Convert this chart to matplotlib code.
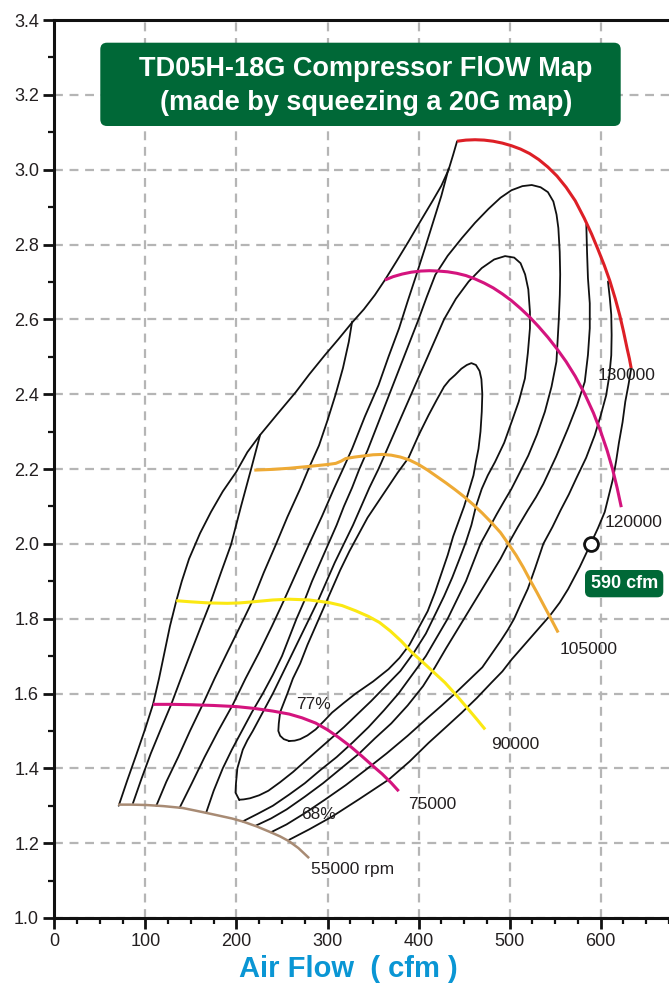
import matplotlib
matplotlib.use("Agg")
import matplotlib.pyplot as plt
from matplotlib.patches import FancyBboxPatch
import numpy as np

plt.rcParams['font.family'] = ['Liberation Sans', 'DejaVu Sans']

# ---------------- data (cfm, pressure ratio) ----------------
surge_x = [70.7, 80, 90, 100, 108.4, 115, 121, 127, 134, 140, 148, 160, 172, 185, 200, 212, 226, 245, 265, 280, 297, 312, 326.5, 340, 352, 363, 376, 389, 402, 415, 425, 433, 438, 442.3]
surge_y = [1.30, 1.367, 1.436, 1.507, 1.571, 1.64, 1.71, 1.78, 1.848, 1.90, 1.96, 2.028, 2.085, 2.14, 2.193, 2.245, 2.291, 2.347, 2.405, 2.453, 2.504, 2.547, 2.59, 2.627, 2.665, 2.705, 2.756, 2.808, 2.862, 2.915, 2.957, 3.0, 3.04, 3.076]

# left pieces of outer efficiency contours (surge -> 55000 rpm line)
l1_x = [86.4, 96, 106, 117, 128.4, 139, 150, 161, 172.2, 183, 194.1, 205, 216, 226]
l1_y = [1.307, 1.374, 1.44, 1.505, 1.571, 1.64, 1.71, 1.779, 1.848, 1.923, 1.998, 2.10, 2.199, 2.291]
l2_x = [112, 123, 136, 149, 163, 176, 190, 204, 217.7, 230, 243.3, 256, 270, 280, 290.7, 300, 309, 317, 323.4, 327]
l2_y = [1.30, 1.364, 1.43, 1.50, 1.571, 1.64, 1.71, 1.779, 1.848, 1.923, 1.998, 2.072, 2.147, 2.205, 2.263, 2.33, 2.40, 2.47, 2.54, 2.594]
l3_x = [137.5, 151, 165, 180, 196, 210, 225, 239, 252, 266, 280, 294, 307, 317, 327, 341, 356, 367, 378.6, 388, 397.6, 407, 416, 425, 433]
l3_y = [1.294, 1.36, 1.43, 1.50, 1.57, 1.64, 1.71, 1.78, 1.848, 1.924, 2.0, 2.074, 2.147, 2.20, 2.254, 2.34, 2.424, 2.50, 2.576, 2.648, 2.719, 2.79, 2.86, 2.93, 3.003]

# right pieces of outer contours (55000 rpm line -> 130000 rpm line)
r1_x = [257.9, 280, 305, 335, 367.3, 390, 411, 430, 447.5, 464, 480, 492, 502.2, 523, 544.2, 555, 564.2, 577, 589, 597, 604.4, 609, 613.5, 617, 620, 624, 627, 630.5, 633.5]
r1_y = [1.209, 1.237, 1.271, 1.318, 1.37, 1.418, 1.468, 1.51, 1.549, 1.588, 1.629, 1.659, 1.691, 1.749, 1.808, 1.843, 1.879, 1.938, 2.0, 2.042, 2.085, 2.13, 2.174, 2.222, 2.27, 2.325, 2.38, 2.425, 2.469]
r2_x = [237.8, 255, 275, 297, 320, 342, 365, 388, 410, 425, 440, 455, 470, 480, 490, 498, 505, 512, 520, 528, 537, 547, 556, 565, 573, 584, 593.4, 600, 606, 609.5, 611.6, 612, 611.6, 610, 608]
r2_y = [1.229, 1.25, 1.28, 1.316, 1.355, 1.396, 1.44, 1.487, 1.535, 1.567, 1.60, 1.635, 1.67, 1.705, 1.74, 1.77, 1.80, 1.838, 1.88, 1.935, 2.0, 2.045, 2.09, 2.132, 2.174, 2.23, 2.29, 2.343, 2.397, 2.45, 2.504, 2.558, 2.612, 2.657, 2.701]
r3_x = [221.4, 238, 255, 275, 295, 315, 335, 352, 370, 388, 405, 418, 430, 440, 450, 460, 470, 480, 490, 498.6, 509, 520, 529, 537, 551, 564, 574, 582.5, 586, 588, 588, 586, 585, 584.2]
r3_y = [1.247, 1.266, 1.29, 1.324, 1.36, 1.40, 1.44, 1.48, 1.52, 1.568, 1.62, 1.67, 1.72, 1.76, 1.80, 1.84, 1.88, 1.92, 1.96, 2.0, 2.045, 2.09, 2.125, 2.16, 2.233, 2.308, 2.37, 2.433, 2.505, 2.576, 2.643, 2.71, 2.78, 2.853]

# contour cut only by the 55000 rpm line (top at 2.96)
t1_x = [166.7, 175, 185, 195, 206, 217, 229, 240, 250, 258, 266, 275, 283, 292, 301, 310, 318, 327, 335, 344, 352, 360, 368, 376, 384, 392, 400, 409, 418.4, 432, 447.5, 462, 476.7, 490, 502, 514, 524.3, 534, 542, 548, 551.5, 553.5, 555, 555.5, 555.1, 554, 551.4, 546, 538.7, 530, 520.5, 511, 502, 494, 486, 477, 468, 460, 452, 442, 432, 420, 408, 393, 378, 362, 345, 328, 310, 292, 275, 258, 240, 223, 206.8]
t1_y = [1.281, 1.34, 1.40, 1.45, 1.50, 1.55, 1.60, 1.65, 1.70, 1.75, 1.80, 1.85, 1.90, 1.95, 2.0, 2.05, 2.1, 2.15, 2.2, 2.25, 2.3, 2.35, 2.4, 2.45, 2.5, 2.55, 2.6, 2.66, 2.719, 2.77, 2.817, 2.858, 2.895, 2.925, 2.945, 2.956, 2.959, 2.953, 2.94, 2.915, 2.88, 2.844, 2.78, 2.72, 2.665, 2.60, 2.487, 2.42, 2.353, 2.292, 2.236, 2.19, 2.147, 2.114, 2.08, 2.04, 2.0, 1.95, 1.9, 1.85, 1.8, 1.75, 1.7, 1.65, 1.6, 1.555, 1.51, 1.47, 1.43, 1.395, 1.36, 1.33, 1.30, 1.278, 1.258]

# closed island (top 2.77, bottom 1.32)
t2_x = [203, 199, 199.5, 201, 204, 207, 212, 218, 229, 240, 250, 260, 270, 280, 290, 299, 308, 318, 328, 337, 346, 356, 365, 374, 383, 392, 401, 410, 419, 428, 441, 455, 469.4, 483, 495, 505, 512, 517, 520.5, 522.3, 522.3, 520, 516.8, 510, 502.2, 494, 484, 476, 469.4, 463, 458, 452, 445, 437, 428, 418, 408, 395, 380, 364, 348, 333, 318, 304, 290, 276, 262, 248, 235, 225, 215, 208, 203]
t2_y = [1.316, 1.335, 1.36, 1.40, 1.425, 1.45, 1.475, 1.50, 1.55, 1.60, 1.65, 1.70, 1.75, 1.80, 1.85, 1.90, 1.95, 2.0, 2.05, 2.1, 2.15, 2.2, 2.25, 2.3, 2.35, 2.4, 2.45, 2.5, 2.55, 2.6, 2.655, 2.701, 2.737, 2.76, 2.769, 2.765, 2.75, 2.72, 2.68, 2.62, 2.576, 2.51, 2.442, 2.38, 2.326, 2.27, 2.219, 2.183, 2.147, 2.10, 2.05, 2.005, 1.96, 1.91, 1.86, 1.81, 1.76, 1.71, 1.66, 1.62, 1.58, 1.545, 1.51, 1.48, 1.45, 1.42, 1.39, 1.363, 1.34, 1.328, 1.32, 1.317, 1.316]

# 77% island
t3_x = [258, 252, 248, 246, 246.5, 248, 252, 256, 262, 270, 278, 287, 296, 305, 314, 324, 334, 344, 355, 366, 377, 389, 400, 411, 420, 428, 434, 440, 447, 453, 458, 463, 467, 469, 470, 469.4, 468, 465.8, 463, 460.3, 455, 450, 444, 438, 432, 425, 418, 410, 400, 390, 379, 367, 350, 331, 318, 305, 296, 287, 278, 270, 264, 258]
t3_y = [1.473, 1.478, 1.487, 1.50, 1.52, 1.55, 1.575, 1.60, 1.64, 1.68, 1.73, 1.78, 1.83, 1.88, 1.93, 1.98, 2.025, 2.07, 2.11, 2.15, 2.19, 2.23, 2.29, 2.344, 2.385, 2.42, 2.438, 2.451, 2.468, 2.478, 2.483, 2.478, 2.462, 2.44, 2.40, 2.353, 2.30, 2.254, 2.22, 2.183, 2.14, 2.10, 2.06, 2.02, 1.97, 1.92, 1.87, 1.82, 1.775, 1.73, 1.695, 1.665, 1.632, 1.60, 1.575, 1.549, 1.526, 1.504, 1.488, 1.478, 1.474, 1.473]

# speed lines
rpm130_x = [442.3, 452, 462, 472, 482, 492, 502, 512, 522, 532, 542, 552, 562, 572, 582, 590, 597, 604, 610, 616, 621, 625, 629, 631.5, 633.5]
rpm130_y = [3.076, 3.079, 3.080, 3.079, 3.076, 3.071, 3.064, 3.055, 3.043, 3.027, 3.007, 2.983, 2.953, 2.917, 2.870, 2.828, 2.787, 2.744, 2.703, 2.655, 2.61, 2.568, 2.522, 2.495, 2.469]
rpm120_x = [363, 372, 382, 392, 402, 412, 422, 432, 442, 452, 462, 472, 482, 492, 502, 512, 522, 532, 542, 552, 562, 572, 582, 592, 600, 607, 613, 618, 622.6]
rpm120_y = [2.705, 2.714, 2.721, 2.726, 2.729, 2.730, 2.729, 2.727, 2.723, 2.717, 2.708, 2.697, 2.684, 2.668, 2.65, 2.629, 2.606, 2.58, 2.552, 2.521, 2.487, 2.448, 2.403, 2.35, 2.30, 2.25, 2.20, 2.15, 2.098]
rpm105_x = [219.6, 240, 258, 280, 300, 309, 315, 320, 330, 340, 350, 360, 370, 380, 390, 400, 410, 420, 430, 440, 450, 460, 470, 480, 490, 498.6, 507, 515, 522, 530, 537, 544, 549, 553.3]
rpm105_y = [2.197, 2.199, 2.202, 2.207, 2.212, 2.215, 2.221, 2.228, 2.232, 2.235, 2.238, 2.239, 2.237, 2.232, 2.224, 2.212, 2.197, 2.18, 2.163, 2.145, 2.126, 2.105, 2.082, 2.057, 2.03, 2.0, 1.97, 1.937, 1.905, 1.87, 1.838, 1.806, 1.783, 1.763]
rpm90_x = [133.9, 150, 170, 190, 203, 218, 240, 258, 280, 301.6, 316, 331, 345, 357, 369, 381, 393, 405, 417, 429, 442, 455, 464, 473.1]
rpm90_y = [1.848, 1.845, 1.842, 1.841, 1.842, 1.845, 1.85, 1.852, 1.85, 1.843, 1.835, 1.821, 1.806, 1.79, 1.767, 1.74, 1.709, 1.683, 1.656, 1.629, 1.594, 1.557, 1.531, 1.504]
rpm75_x = [108.4, 130, 150, 175, 200, 220, 240, 258, 272, 287, 300, 312, 325, 338, 350, 360, 370, 378.2]
rpm75_y = [1.571, 1.571, 1.570, 1.568, 1.565, 1.560, 1.553, 1.545, 1.535, 1.521, 1.503, 1.483, 1.459, 1.432, 1.406, 1.385, 1.361, 1.339]
rpm55_x = [70, 85, 101, 120, 141, 155, 166.7, 180, 195, 206.8, 222, 237.8, 248, 257.9, 268, 279.8]
rpm55_y = [1.303, 1.303, 1.302, 1.299, 1.294, 1.287, 1.281, 1.274, 1.266, 1.258, 1.245, 1.229, 1.218, 1.205, 1.187, 1.16]

speed_labels = ["130000", "120000", "105000", "90000", "75000", "55000 rpm"]
speed_label_x = [597, 604.4, 555, 480, 389, 281.6]
speed_label_y = [2.451, 2.058, 1.718, 1.464, 1.303, 1.129]

eff_labels = ["77%", "68%"]
eff_label_x = [265, 270.7]
eff_label_y = [1.571, 1.276]

point_x, point_y = 589, 2.0
point_label = "590 cfm"

title_lines = ["TD05H-18G Compressor FlOW Map", "(made by squeezing a 20G map)"]
xlabel = "Air Flow  ( cfm )"
xticks = [0, 100, 200, 300, 400, 500, 600]
yticks = [1.0, 1.2, 1.4, 1.6, 1.8, 2.0, 2.2, 2.4, 2.6, 2.8, 3.0, 3.2, 3.4]

# ---------------- figure ----------------
W, H = 669, 983
fig = plt.figure(figsize=(W / 100, H / 100), dpi=100)
ax = fig.add_axes([54.3 / W, 1 - 918 / H, (W - 54.3) / W, (918 - 20) / H])
ax.set_xlim(0, 672.5)
ax.set_ylim(1.0, 3.4)

txt_col = '#231f20'
for s in ['left', 'bottom', 'top']:
    ax.spines[s].set_linewidth(2.2)
    ax.spines[s].set_color('#111111')
ax.spines['right'].set_visible(False)

ax.set_xticks(xticks)
ax.set_xticks(np.arange(0, 676, 25), minor=True)
ax.set_yticks(yticks)
ax.set_yticks(np.arange(1.0, 3.41, 0.1), minor=True)
ax.set_yticklabels([f"{v:.1f}" for v in yticks])
ax.tick_params(axis='both', which='major', direction='out', length=8, width=2, labelsize=13,
               labelcolor=txt_col, color='#111111', pad=3)
ax.tick_params(axis='both', which='minor', direction='out', length=4, width=1.6, color='#111111')
ax.tick_params(axis='x', which='both', top=False)

ax.set_axisbelow(True)
ax.grid(True, which='major', color='#b5b5b5', linewidth=1.6, linestyle=(0, (4, 3)))

black = dict(color='#111111', lw=1.3, solid_joinstyle='round', solid_capstyle='round', zorder=3)
ax.plot(surge_x, surge_y, **black)
for xs, ys in [(l1_x, l1_y), (l2_x, l2_y), (l3_x, l3_y), (r1_x, r1_y), (r2_x, r2_y), (r3_x, r3_y),
               (t1_x, t1_y), (t2_x, t2_y), (t3_x, t3_y)]:
    ax.plot(xs, ys, **black)

sp = dict(solid_joinstyle='round', solid_capstyle='butt', zorder=4)
ax.plot(rpm130_x, rpm130_y, color='#dd1f26', lw=2.2, **sp)
ax.plot(rpm120_x, rpm120_y, color='#d4147e', lw=2.2, **sp)
ax.plot(rpm105_x, rpm105_y, color='#eeaa35', lw=2.2, **sp)
ax.plot(rpm90_x, rpm90_y, color='#fbe812', lw=2.2, **sp)
ax.plot(rpm75_x, rpm75_y, color='#d4147e', lw=2.2, **sp)
ax.plot(rpm55_x, rpm55_y, color='#a88b74', lw=1.8, **sp)

for t, x, y in zip(speed_labels, speed_label_x, speed_label_y):
    ax.text(x, y, t, fontsize=12.5, color=txt_col, ha='left', va='center', zorder=6)
for t, x, y in zip(eff_labels, eff_label_x, eff_label_y):
    ax.text(x, y, t, fontsize=12.5, color=txt_col, ha='left', va='center', zorder=6)

ax.plot([point_x], [point_y], marker='o', ms=10, mfc='white', mec='#111111', mew=2, zorder=7)

green = '#006837'
# 590 cfm box (figure pixels)
bx0, bx1, by0, by1 = 585, 663.3, 570, 597.3
fig.patches.append(FancyBboxPatch((bx0 / W, 1 - by1 / H), (bx1 - bx0) / W, (by1 - by0) / H,
                                  boxstyle="round,pad=0,rounding_size=0.009", mutation_aspect=W / H,
                                  transform=fig.transFigure, facecolor=green, edgecolor='none', zorder=8))
fig.text((bx0 + bx1) / 2 / W, 1 - (by0 + by1) / 2 / H, point_label, color='white', fontsize=13,
         fontweight='bold', ha='center', va='center', zorder=9)

# title box
tx0, tx1, ty0, ty1 = 100.3, 620.7, 42.7, 126
fig.patches.append(FancyBboxPatch((tx0 / W, 1 - ty1 / H), (tx1 - tx0) / W, (ty1 - ty0) / H,
                                  boxstyle="round,pad=0,rounding_size=0.01", mutation_aspect=W / H,
                                  transform=fig.transFigure, facecolor=green, edgecolor='none', zorder=8))
fig.text(365.8 / W, 1 - 76 / H, title_lines[0], color='white', fontsize=19.5, fontweight='bold',
         ha='center', va='baseline', zorder=9)
fig.text(365.8 / W, 1 - 110 / H, title_lines[1], color='white', fontsize=19.5, fontweight='bold',
         ha='center', va='baseline', zorder=9)

fig.text(348 / W, 1 - 969 / H, xlabel, color='#0a96d4', fontsize=21, fontweight='bold',
         ha='center', va='center')

fig.savefig('out.png', dpi=100)
